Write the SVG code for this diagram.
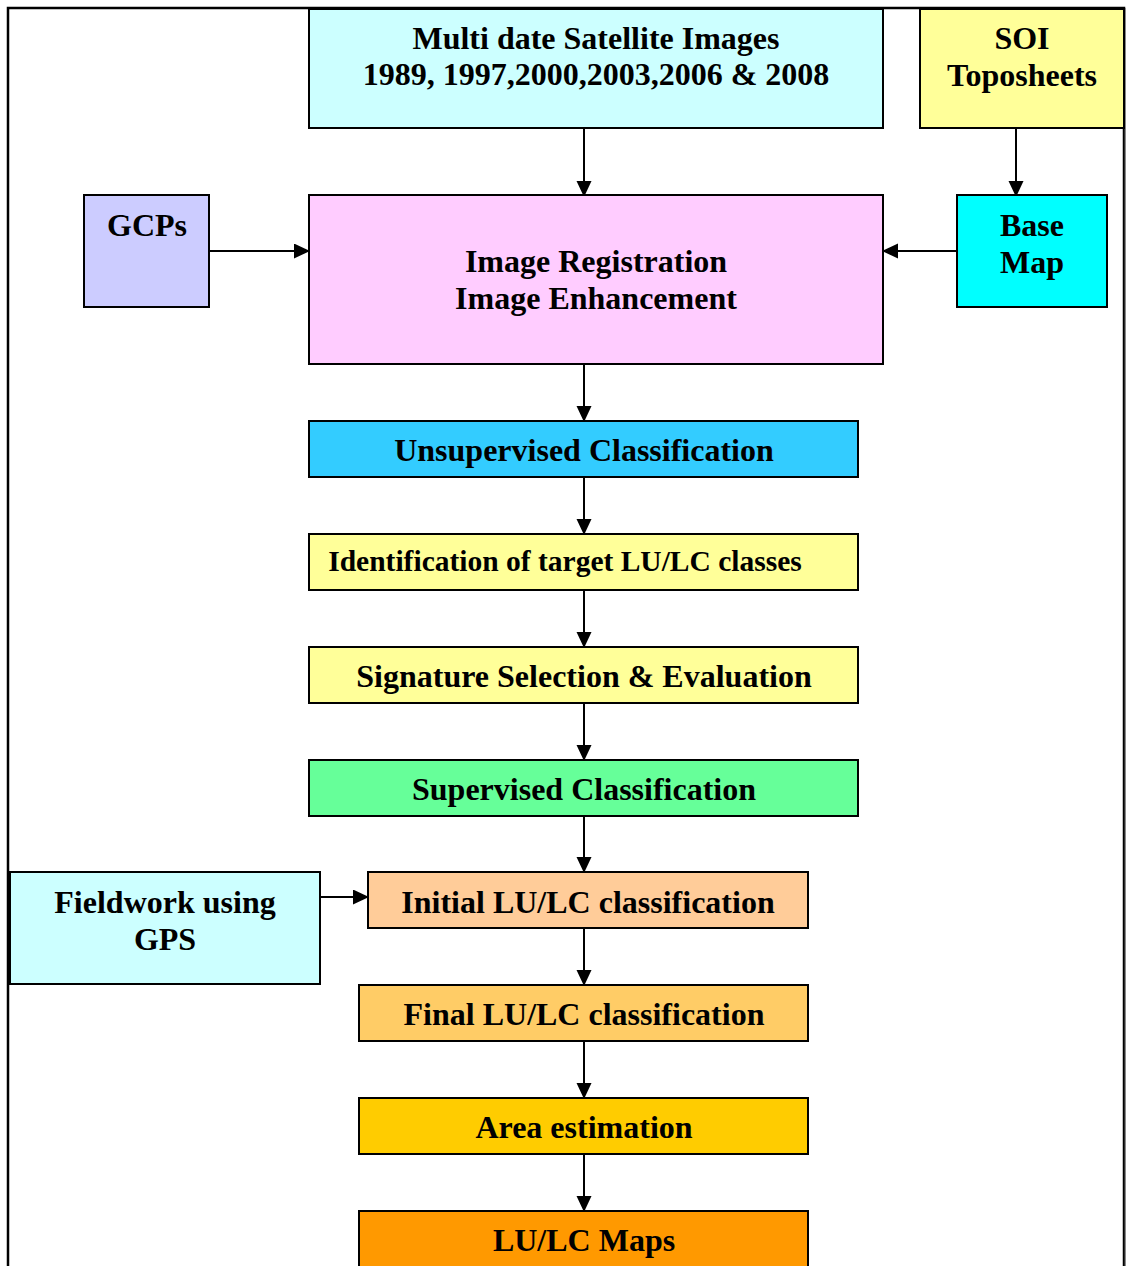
<svg xmlns="http://www.w3.org/2000/svg" width="1126" height="1266" viewBox="0 0 1126 1266">
<style>
.b{stroke:#000;stroke-width:2}
.t{font-family:"Liberation Serif","Times New Roman",serif;font-weight:bold;font-size:32px;text-anchor:middle;fill:#000}
.c{stroke:#000;stroke-width:2;fill:none;marker-end:url(#ah)}
</style>
<defs>
<marker id="ah" markerWidth="16" markerHeight="16" refX="15" refY="7.5" orient="auto" markerUnits="userSpaceOnUse">
<path d="M0,0 L16,7.5 L0,15 z" fill="#000"/>
</marker>
</defs>
<rect x="0" y="0" width="1126" height="1266" fill="#fff"/>
<path d="M8,1266 V8 H1124 V1266" fill="none" stroke="#000" stroke-width="2.5"/>
<path d="M1125,8 V1266" stroke="#555" stroke-width="1"/>
<g id="connectors">
<path class="c" d="M584,128 V196"/>
<path class="c" d="M1016,128 V196"/>
<path class="c" d="M209,251 H309"/>
<path class="c" d="M957,251 H883"/>
<path class="c" d="M584,364 V421"/>
<path class="c" d="M584,477 V534"/>
<path class="c" d="M584,590 V647"/>
<path class="c" d="M584,703 V760"/>
<path class="c" d="M584,816 V872"/>
<path class="c" d="M320,897 H368"/>
<path class="c" d="M584,928 V985"/>
<path class="c" d="M584,1041 V1098"/>
<path class="c" d="M584,1154 V1211"/>
</g>
<g id="multi"><rect class="b" x="309" y="9" width="574" height="119" fill="#CCFFFF"/><text class="t" x="596" y="49">Multi date Satellite Images</text><text class="t" x="596" y="85">1989, 1997,2000,2003,2006 &amp; 2008</text></g>
<g id="soi"><rect class="b" x="920" y="9" width="204" height="119" fill="#FFFF99"/><text class="t" x="1022" y="49">SOI</text><text class="t" x="1022" y="86">Toposheets</text></g>
<g id="gcps"><rect class="b" x="84" y="195" width="125" height="112" fill="#CCCCFF"/><text class="t" x="147" y="236">GCPs</text></g>
<g id="registration"><rect class="b" x="309" y="195" width="574" height="169" fill="#FFCCFF"/><text class="t" x="596" y="272">Image Registration</text><text class="t" x="596" y="309">Image Enhancement</text></g>
<g id="basemap"><rect class="b" x="957" y="195" width="150" height="112" fill="#00FFFF"/><text class="t" x="1032" y="236">Base</text><text class="t" x="1032" y="273">Map</text></g>
<g id="unsupervised"><rect class="b" x="309" y="421" width="549" height="56" fill="#33CCFF"/><text class="t" x="584" y="461">Unsupervised Classification</text></g>
<g id="identification"><rect class="b" x="309" y="534" width="549" height="56" fill="#FFFF99"/><text class="t" x="565" y="571" style="font-size:29.5px">Identification of target LU/LC classes</text></g>
<g id="signature"><rect class="b" x="309" y="647" width="549" height="56" fill="#FFFF99"/><text class="t" x="584" y="687">Signature Selection &amp; Evaluation</text></g>
<g id="supervised"><rect class="b" x="309" y="760" width="549" height="56" fill="#66FF99"/><text class="t" x="584" y="800">Supervised Classification</text></g>
<g id="fieldwork"><rect class="b" x="10" y="872" width="310" height="112" fill="#CCFFFF"/><text class="t" x="165" y="913">Fieldwork using</text><text class="t" x="165" y="950">GPS</text></g>
<g id="initial"><rect class="b" x="368" y="872" width="440" height="56" fill="#FFCC99"/><text class="t" x="588" y="913">Initial LU/LC classification</text></g>
<g id="final"><rect class="b" x="359" y="985" width="449" height="56" fill="#FFCC66"/><text class="t" x="584" y="1025">Final LU/LC classification</text></g>
<g id="area"><rect class="b" x="359" y="1098" width="449" height="56" fill="#FFCC00"/><text class="t" x="584" y="1138">Area estimation</text></g>
<g id="maps"><rect class="b" x="359" y="1211" width="449" height="70" fill="#FF9900"/><text class="t" x="584" y="1251">LU/LC Maps</text></g>
</svg>
